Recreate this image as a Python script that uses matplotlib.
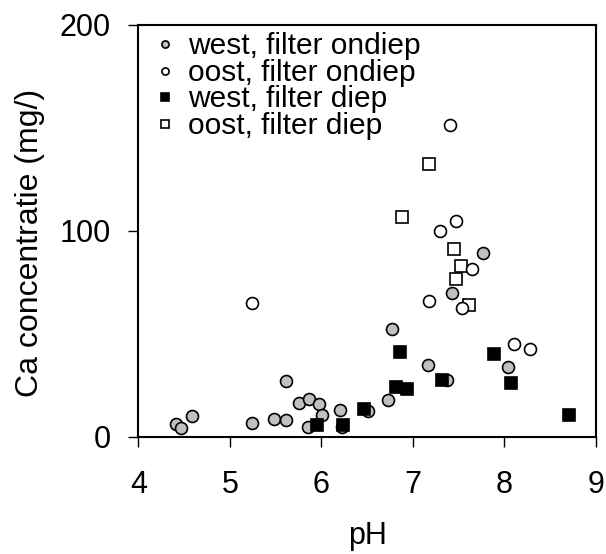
import matplotlib.pyplot as plt

plt.rcParams['font.family'] = ['Liberation Sans', 'DejaVu Sans']

# west, filter ondiep (grey circles)
west_ondiep_ph = [4.41, 4.46, 4.59, 5.24, 5.48, 5.61, 5.61, 5.75, 5.86, 5.97, 6.01, 5.85,
                  6.20, 6.22, 6.51, 6.73, 6.77, 7.16, 7.37, 8.04, 7.43, 7.76]
west_ondiep_ca = [6.1, 4.2, 10.0, 6.9, 8.9, 8.1, 27.3, 16.7, 18.6, 15.9, 10.8, 4.9,
                  13.0, 5.0, 12.6, 17.8, 52.6, 35.1, 27.5, 34.1, 70.0, 89.5]

# oost, filter ondiep (open circles)
oost_ondiep_ph = [5.24, 7.18, 7.54, 8.10, 8.28, 7.41, 7.47, 7.29, 7.65]
oost_ondiep_ca = [65.2, 66.1, 62.5, 45.0, 42.9, 151.6, 105.0, 100.1, 81.7]

# west, filter diep (black squares)
west_diep_ph = [5.95, 6.24, 6.47, 6.86, 6.82, 6.93, 7.32, 7.89, 8.07, 8.70]
west_diep_ca = [6.0, 6.0, 13.6, 41.1, 24.3, 23.5, 27.5, 40.1, 26.4, 10.8]

# oost, filter diep (open squares)
oost_diep_ph = [7.17, 6.88, 7.45, 7.53, 7.47, 7.61]
oost_diep_ca = [132.4, 106.9, 91.4, 83.0, 76.8, 64.2]

fig = plt.figure(figsize=(6.06, 5.54), dpi=100)
ax = fig.add_axes([0.2284, 0.2112, 0.7551, 0.7437])

ms = 8.6
ax.plot(oost_diep_ph, oost_diep_ca, 's', ms=ms, mfc='white', mec='black', mew=1.2,
        label='oost, filter diep', zorder=2)
ax.plot(oost_ondiep_ph, oost_ondiep_ca, 'o', ms=ms, mfc='white', mec='black', mew=1.2,
        label='oost, filter ondiep', zorder=3)
ax.plot(west_ondiep_ph, west_ondiep_ca, 'o', ms=ms, mfc='#c0c0c0', mec='black', mew=1.2,
        label='west, filter ondiep', zorder=4)
ax.plot(west_diep_ph, west_diep_ca, 's', ms=ms, mfc='black', mec='black', mew=1.2,
        label='west, filter diep', zorder=5)

ax.set_xlim(4, 9)
ax.set_ylim(0, 200)
ax.set_xticks([4, 5, 6, 7, 8, 9])
ax.set_yticks([0, 100, 200])
ax.tick_params(direction='out', length=7, width=1, labelsize=22)
ax.tick_params(axis='x', pad=17)
ax.tick_params(axis='y', pad=13)
for s in ax.spines.values():
    s.set_linewidth(1.5)

ax.set_xlabel('pH', fontsize=22, labelpad=15)
ax.set_ylabel('Ca concentratie (mg/)', fontsize=23)
ax.yaxis.set_label_coords(-0.204, 0.47)

h, l = ax.get_legend_handles_labels()
order = [2, 1, 3, 0]
ax.legend([h[i] for i in order], [l[i] for i in order], loc='upper left',
          frameon=False, fontsize=21.5, markerscale=0.6, handlelength=1.3,
          handletextpad=0.1, labelspacing=-0.05, borderpad=0.1, borderaxespad=0.15)

fig.savefig('out.png', dpi=100)
